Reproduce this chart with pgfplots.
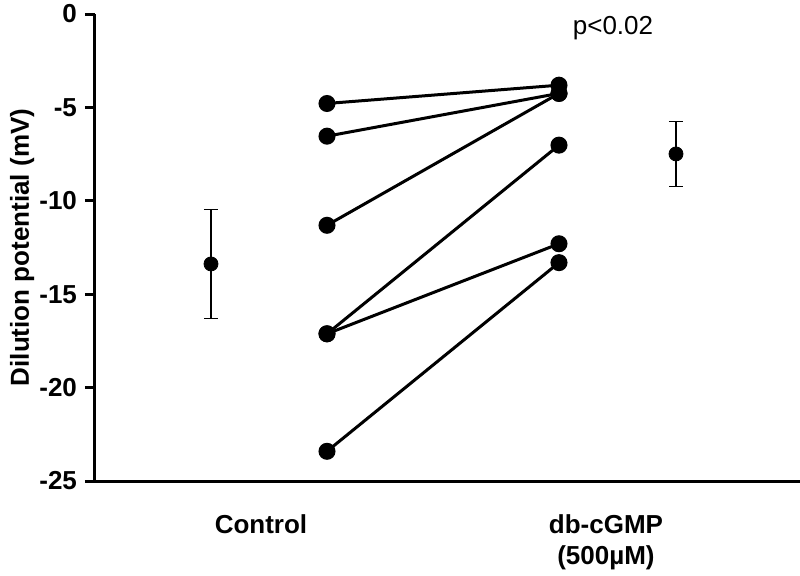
\documentclass[border=0pt]{standalone}
\usepackage{pgfplots}
\pgfplotsset{compat=1.18}
\usepackage{fontspec}
\setmainfont{Liberation Sans}

\begin{document}
\begin{tikzpicture}
% fixed page: 1 px of the reference = 0.5pt
\useasboundingbox (-47.5pt,-47pt) rectangle (352.5pt,240.5pt);
\begin{axis}[
    at={(0,0)}, anchor=south west,
    scale only axis,
    width=352.5pt, height=233.5pt,
    xmin=95, xmax=800,
    ymin=-25, ymax=0,
    clip=false,
    axis lines=left,
    axis line style={-, line width=1.5pt},
    ytick={-25,-20,-15,-10,-5,0},
    yticklabels={-25,-20,-15,-10,-5,0},
    xtick={261,606},
    xticklabels={Control,{db-cGMP\\(500µM)}},
    major tick length=5pt,
    tick align=outside,
    tick style={line width=1.5pt, black},
    xtick style={draw=none},
    yticklabel style={font=\bfseries\fontsize{13}{15}\selectfont, xshift=-0.5pt},
    xticklabel style={font=\bfseries\fontsize{13}{15.5}\selectfont, align=center, yshift=-8.5pt},
    ylabel={Dilution potential (mV)},
    ylabel style={font=\bfseries\fontsize{13}{15}\selectfont, at={(axis description cs:-0.1035,0.5)}, anchor=center},
]
% paired observations
\addplot[black, line width=1.5pt, mark=*, mark size=3.5pt] coordinates {(327,-4.79) (559,-3.81)};
\addplot[black, line width=1.5pt, mark=*, mark size=3.5pt] coordinates {(327,-6.54) (559,-4.25)};
\addplot[black, line width=1.5pt, mark=*, mark size=3.5pt] coordinates {(327,-11.31) (559,-4.25)};
\addplot[black, line width=1.5pt, mark=*, mark size=3.5pt] coordinates {(327,-17.12) (559,-7.02)};
\addplot[black, line width=1.5pt, mark=*, mark size=3.5pt] coordinates {(327,-17.12) (559,-12.30)};
\addplot[black, line width=1.5pt, mark=*, mark size=3.5pt] coordinates {(327,-23.41) (559,-13.31)};
% means with error bars
\addplot[black, only marks, mark=*, mark size=3.5pt,
    error bars/.cd, y dir=both, y explicit,
    error bar style={line width=0.8pt},
    error mark options={rotate=90, mark size=3.5pt, line width=0.8pt}]
    coordinates {(211,-13.38) +- (0,2.91) (676,-7.49) +- (0,1.74)};
\node[font=\fontsize{13}{15}\selectfont] at (axis cs:613,-0.75) {p<0.02};
\end{axis}
\end{tikzpicture}
\end{document}
